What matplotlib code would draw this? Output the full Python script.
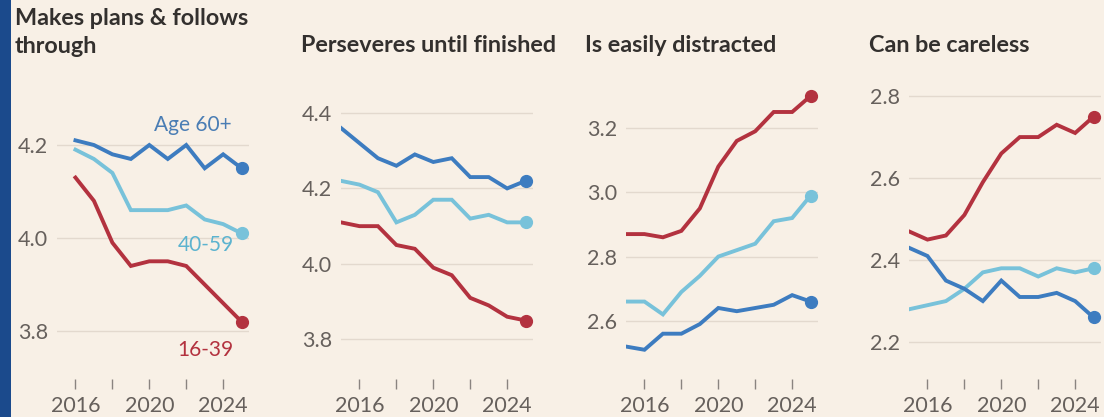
import matplotlib.pyplot as plt
from matplotlib.patches import Rectangle

# Survey years
years_plans = list(range(2016, 2026))
years = list(range(2015, 2026))

# Makes plans & follows through
plans_60 = [4.21, 4.20, 4.18, 4.17, 4.20, 4.17, 4.20, 4.15, 4.18, 4.15]
plans_40 = [4.19, 4.17, 4.14, 4.06, 4.06, 4.06, 4.07, 4.04, 4.03, 4.01]
plans_16 = [4.13, 4.08, 3.99, 3.94, 3.95, 3.95, 3.94, 3.90, 3.86, 3.82]

# Perseveres until finished
pers_60 = [4.36, 4.32, 4.28, 4.26, 4.29, 4.27, 4.28, 4.23, 4.23, 4.20, 4.22]
pers_40 = [4.22, 4.21, 4.19, 4.11, 4.13, 4.17, 4.17, 4.12, 4.13, 4.11, 4.11]
pers_16 = [4.11, 4.10, 4.10, 4.05, 4.04, 3.99, 3.97, 3.91, 3.89, 3.86, 3.85]

# Is easily distracted
dist_60 = [2.52, 2.51, 2.56, 2.56, 2.59, 2.64, 2.63, 2.64, 2.65, 2.68, 2.66]
dist_40 = [2.66, 2.66, 2.62, 2.69, 2.74, 2.80, 2.82, 2.84, 2.91, 2.92, 2.99]
dist_16 = [2.87, 2.87, 2.86, 2.88, 2.95, 3.08, 3.16, 3.19, 3.25, 3.25, 3.30]

# Can be careless
care_60 = [2.43, 2.41, 2.35, 2.33, 2.30, 2.35, 2.31, 2.31, 2.32, 2.30, 2.26]
care_40 = [2.28, 2.29, 2.30, 2.33, 2.37, 2.38, 2.38, 2.36, 2.38, 2.37, 2.38]
care_16 = [2.47, 2.45, 2.46, 2.51, 2.59, 2.66, 2.70, 2.70, 2.73, 2.71, 2.75]

titles = ['Makes plans & follows\nthrough', 'Perseveres until finished',
          'Is easily distracted', 'Can be careless']
yticks = [[3.8, 4.0, 4.2], [3.8, 4.0, 4.2, 4.4], [2.6, 2.8, 3.0, 3.2], [2.2, 2.4, 2.6, 2.8]]
xticks = [2016, 2018, 2020, 2022, 2024]
xticklabels = ['2016', '', '2020', '', '2024']

bg = '#f8f0e6'
c_60 = '#3d7cc0'
c_40 = '#78c2da'
c_16 = '#b3323f'
grid_c = '#e3d9ce'
text_c = '#66605c'

plt.rcParams['font.family'] = ['Lato', 'DejaVu Sans']

W, H = 1104, 417
fig = plt.figure(figsize=(W / 100, H / 100), dpi=100, facecolor=bg)

# dark blue strip on the left edge
fig.patches.append(Rectangle((0, 0), 11 / W, 1, transform=fig.transFigure,
                             facecolor='#1b4a8c', edgecolor='none', zorder=0))

lefts = [57, 341, 626, 909]
ax_w = 192
top_px, bot_px = 85, 379
ylims = [(3.697, 4.329), (3.695, 4.474), (2.419, 3.334), (2.110, 2.827)]

panels = [
    (years_plans, plans_60, plans_40, plans_16),
    (years, pers_60, pers_40, pers_16),
    (years, dist_60, dist_40, dist_16),
    (years, care_60, care_40, care_16),
]

axes = []
for i, (xs, s60, s40, s16) in enumerate(panels):
    ax = fig.add_axes([lefts[i] / W, (H - bot_px) / H, ax_w / W, (bot_px - top_px) / H])
    ax.set_facecolor(bg)
    for sp in ax.spines.values():
        sp.set_visible(False)
    ax.set_xlim(2015, 2025.4)
    ax.set_ylim(*ylims[i])
    ax.set_yticks(yticks[i])
    ax.set_yticklabels([f'{v:.1f}' for v in yticks[i]])
    ax.set_xticks(xticks)
    ax.set_xticklabels(xticklabels)
    ax.tick_params(axis='y', length=0, pad=6.5, labelsize=15.5, labelcolor=text_c)
    ax.tick_params(axis='x', length=7, width=1, color='#8a8480', pad=5,
                   labelsize=15.5, labelcolor=text_c)
    ax.grid(axis='y', color=grid_c, linewidth=1)
    ax.set_axisbelow(True)

    for vals, col in [(s40, c_40), (s16, c_16), (s60, c_60)]:
        ax.plot(xs, vals, color=col, linewidth=2.8, solid_joinstyle='miter', zorder=3)
        ax.plot(xs[-1], vals[-1], 'o', color=col, markersize=8.5, zorder=4)
    axes.append(ax)

# panel titles
fig.text(15 / W, 1 - 8 / H, titles[0], ha='left', va='top', fontsize=16.8,
         fontweight='bold', color='#33302e', linespacing=1.4)
for i, x in zip(range(1, 4), [301, 585, 869]):
    fig.text(x / W, 1 - 35 / H, titles[i], ha='left', va='top', fontsize=16.8,
             fontweight='bold', color='#33302e')

# series labels in the first panel
ax1 = axes[0]
ax1.text(2022.35, 4.243, 'Age 60+', color='#4a7db4', fontsize=15, ha='center', va='center')
ax1.text(2023.05, 3.985, '40-59', color='#5cb3cf', fontsize=15, ha='center', va='center')
ax1.text(2023.05, 3.759, '16-39', color='#b3323f', fontsize=15, ha='center', va='center')

fig.savefig('out.png', dpi=100, facecolor=bg)
